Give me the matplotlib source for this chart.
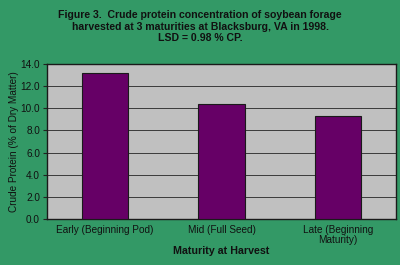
import numpy as np
import matplotlib.pyplot as plt

# Crude protein by maturity stage (from the figure)
categories = ['Early (Beginning Pod)', 'Mid (Full Seed)', 'Late (Beginning\nMaturity)']
protein = [13.2, 10.4, 9.3]
yticks = [0, 2, 4, 6, 8, 10, 12, 14]

bg = '#339966'
plt.rcParams['font.family'] = ['Liberation Sans', 'DejaVu Sans']

fig = plt.figure(figsize=(4, 2.65), dpi=100, facecolor=bg)
ax = fig.add_axes([0.1175, 0.1736, 0.8725, 0.585])
ax.set_facecolor('#c0c0c0')

x = np.arange(len(categories))
ax.bar(x, protein, width=0.4, color='#660066', edgecolor='#1a1a1a', linewidth=0.8, zorder=3)

ax.set_xlim(-0.5, len(categories) - 0.5)
ax.set_ylim(0, 14)
ax.set_yticks(yticks)
ax.set_yticklabels([f'{v:.1f}' for v in yticks], fontsize=7.2, color='#111111')
ax.set_xticks(x)
ax.set_xticklabels(categories, fontsize=7.2, color='#111111', linespacing=1.0)
ax.tick_params(axis='x', length=0, pad=4)
ax.tick_params(axis='y', length=3, width=0.8, color='#222222', pad=2)
ax.grid(axis='y', color='#3a3a3a', linewidth=0.7, zorder=1)
for s in ax.spines.values():
    s.set_color('#1a1a1a')
    s.set_linewidth(1.0)

ax.set_ylabel('Crude Protein (% of Dry Matter)', fontsize=7.2, color='#111111', labelpad=1)
ax.set_xlabel('Maturity at Harvest', fontsize=7.7, fontweight='bold', color='#111111', labelpad=1)

fig.text(0.5, 0.962, 'Figure 3.  Crude protein concentration of soybean forage\n'
         'harvested at 3 maturities at Blacksburg, VA in 1998.\nLSD = 0.98 % CP.',
         ha='center', va='top', fontsize=7.6, fontweight='bold', color='#111111', linespacing=1.2)

fig.savefig('out.png', dpi=100, facecolor=bg)
